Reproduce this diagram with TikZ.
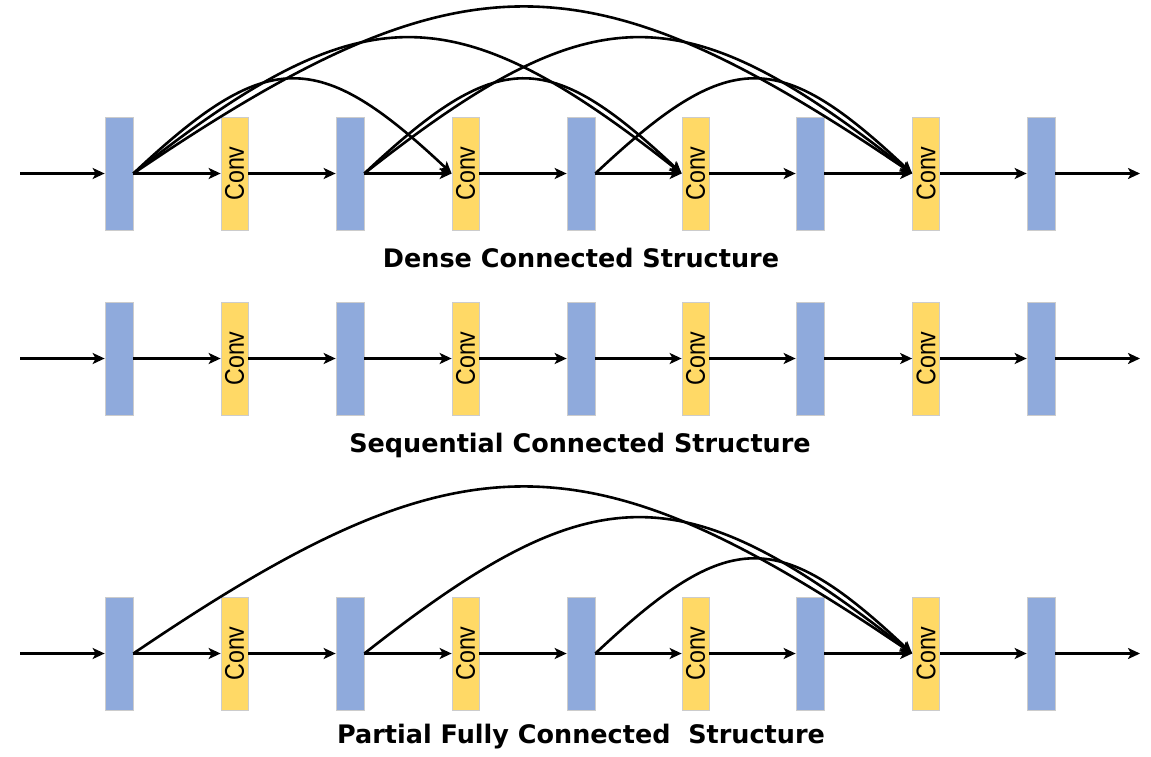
\documentclass[tikz,border=0pt]{standalone}
\usepackage{fontspec}
\setmainfont{Liberation Sans}
\newfontfamily\titlefont{DejaVu Sans}
\usetikzlibrary{arrows.meta}
\definecolor{bl}{HTML}{8FAADC}
\definecolor{yl}{HTML}{FFD966}
\newcommand\convtext{\rotatebox{90}{\scalebox{0.86}[1]{\fontsize{27}{27}\selectfont Conv}}}
\begin{document}
\begin{tikzpicture}[x=1pt,y=-1pt,
  blk/.style={minimum width=28pt, minimum height=113pt, inner sep=0pt, draw=black!20, line width=0.7pt},
  bluebox/.style={blk, fill=bl},
  convbox/.style={blk, fill=yl, minimum width=27pt},
  conn/.style={line width=2.6pt, -{Stealth[length=12pt,width=11pt,inset=3pt]}},
  title/.style={anchor=base, font=\titlefont\bfseries\fontsize{25.5}{28}\selectfont}
]
\useasboundingbox (0,0) rectangle (1151,756);
\foreach \r/\yy in {1/173.5, 2/358.5, 3/653.5} {
  \node[bluebox] (b\r1) at (119,\yy) {};
  \node[convbox] (c\r1) at (234.5,\yy) {\convtext};
  \node[bluebox] (b\r2) at (350,\yy) {};
  \node[convbox] (c\r2) at (465.5,\yy) {\convtext};
  \node[bluebox] (b\r3) at (581,\yy) {};
  \node[convbox] (c\r3) at (695.5,\yy) {\convtext};
  \node[bluebox] (b\r4) at (810,\yy) {};
  \node[convbox] (c\r4) at (926,\yy) {\convtext};
  \node[bluebox] (b\r5) at (1041,\yy) {};
  \coordinate (in\r) at (20,\yy);
  \coordinate (out\r) at (1140,\yy);
  \draw[conn] (in\r) -- (b\r1);
  \draw[conn] (b\r1) -- (c\r1);
  \draw[conn] (c\r1) -- (b\r2);
  \draw[conn] (b\r2) -- (c\r2);
  \draw[conn] (c\r2) -- (b\r3);
  \draw[conn] (b\r3) -- (c\r3);
  \draw[conn] (c\r3) -- (b\r4);
  \draw[conn] (b\r4) -- (c\r4);
  \draw[conn] (c\r4) -- (b\r5);
  \draw[conn] (b\r5) -- (out\r);
}
% dense connections
\draw[conn] (b11.east) .. controls +(134,-126) and +(-134,-126) .. (c12.west);
\draw[conn] (b12.east) .. controls +(134,-126) and +(-134,-126) .. (c13.west);
\draw[conn] (b13.east) .. controls +(134,-126) and +(-134,-126) .. (c14.west);
\draw[conn] (b11.east) .. controls +(230,-181) and +(-230,-181) .. (c13.west);
\draw[conn] (b12.east) .. controls +(230,-181) and +(-230,-181) .. (c14.west);
\draw[conn] (b11.east) .. controls +(327,-222) and +(-327,-222) .. (c14.west);
% partial fully connections
\draw[conn] (b31.east) .. controls +(327,-222) and +(-327,-222) .. (c34.west);
\draw[conn] (b32.east) .. controls +(230,-181) and +(-230,-181) .. (c34.west);
\draw[conn] (b33.east) .. controls +(134,-126) and +(-134,-126) .. (c34.west);
\node[title] (t1) at (581,267) {Dense Connected Structure};
\node[title] (t2) at (580,452) {Sequential Connected Structure};
\node[title] (t3) at (581,743) {Partial Fully Connected\ \ Structure};
\end{tikzpicture}
\end{document}
